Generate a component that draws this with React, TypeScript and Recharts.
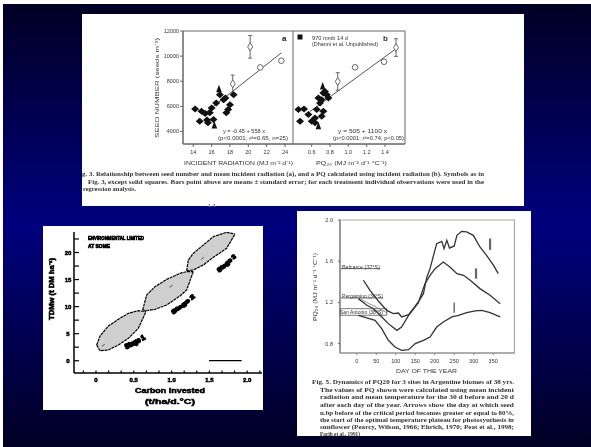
import React from "react";
import {
  ScatterChart, Scatter, XAxis, YAxis, ErrorBar, ReferenceArea, ReferenceLine,
  ComposedChart, Area, LineChart, Line,
} from "recharts";

// Panel A/B: seed number
const seedTicks = [4000, 6000, 8000, 10000, 12000];
const radTicks = [14, 16, 18, 20, 22, 24];
const pqTicks = [0.6, 0.8, 1.0, 1.2, 1.4];
const radX = [14.2, 14.7, 15.3, 15.6, 16.2, 16, 16.5, 16.9, 17.5, 17.8, 17.6, 18.4, 14.9, 15.5, 15.8, 17.3, 18];
const radY = [5790, 4820, 5420, 4690, 4950, 5870, 6270, 6920, 6660, 5740, 5480, 6920, 5610, 4920, 5480, 6530, 6130];
const radTriX = [16.8, 16.3];
const radTriY = [7320, 4430];
const radBarX = [18.3, 20.2];
const radBarY = [7790, 10740];
const radBarErr = [700, 900];
const radOpenX = [21.3, 23.6];
const radOpenY = [9100, 9630];
const radFitX = [15, 23.6];
const radFitY = [5304, 10260];
const pqX = [0.455, 0.516, 0.564, 0.473, 0.6, 0.636, 0.655, 0.691, 0.673, 0.727, 0.764, 0.782, 0.727, 0.709, 0.636, 0.709, 0.745];
const pqY = [5740, 5790, 5350, 4820, 4820, 4690, 5740, 6270, 6660, 7060, 6920, 6660, 5610, 5210, 5080, 6530, 7190];
const pqTriX = [0.673, 0.72];
const pqTriY = [4370, 7530];
const pqBarX = [0.884, 1.52];
const pqBarY = [7980, 10680];
const pqBarErr = [700, 700];
const pqOpenX = [1.073, 1.389];
const pqOpenY = [9110, 9550];
const pqFitX = [0.58, 1.509];
const pqFitY = [5580, 10530];

const xyRows = (xs: number[], ys: number[], errs?: number[]) =>
  xs.map((x, i) => ({ x, y: ys[i], err: errs ? errs[i] : 0 }));

// Panel C: carbon lens diagram
const carbonMajor = [0, 0.5, 1, 1.5, 2];
const carbonLabels = ["0", "0.5", "1.0", "1.5", "2.0"];
const carbonTicks = [-0.167, 0, 0.167, 0.333, 0.5, 0.667, 0.833, 1, 1.167, 1.333, 1.5, 1.667, 1.833, 2, 2.167];
const tdmMajor = [0, 5, 10, 15, 20];
const tdmTicks = [0, 2.5, 5, 7.5, 10, 12.5, 15, 17.5, 20, 22.5];
const lens1X = [0.009, 0.053, 0.163, 0.295, 0.428, 0.56, 0.661];
const lens1Hi = [2.9, 4.57, 6.41, 7.65, 8.76, 9.25, 9.06];
const lens1Lo = [2.9, 1.85, 1.98, 2.9, 4.13, 5.98, 9.06];
const lens2X = [0.617, 0.67, 0.78, 0.935, 1.111, 1.199, 1.287];
const lens2Hi = [9.37, 12.14, 13.68, 15.04, 16.15, 16.46, 16.46];
const lens2Lo = [9.37, 9.25, 9.49, 10.3, 11.96, 13.07, 16.46];
const lens3X = [1.199, 1.221, 1.287, 1.42, 1.552, 1.728, 1.839];
const lens3Hi = [16.64, 18.61, 19.85, 21.39, 22.93, 23.73, 23.42];
const lens3Lo = [16.64, 16.64, 16.77, 17.69, 19.11, 20.77, 23.42];
const lensCentreX = [0.097, 0.992, 1.406];
const lensCentreY = [2.9, 13.8, 18.9];

const lensRows = [
  ...lens1X.map((x, i) => ({ x, l1: [lens1Lo[i], lens1Hi[i]] })),
  ...lens2X.map((x, i) => ({ x, l2: [lens2Lo[i], lens2Hi[i]] })),
  ...lens3X.map((x, i) => ({ x, l3: [lens3Lo[i], lens3Hi[i]] })),
].sort((a, b) => a.x - b.x);

// Panel D: PQ dynamics
const dayTicks = [0, 50, 100, 150, 200, 250, 300, 350];
const pqDayTicks = [0.8, 1.2, 1.6, 2.0];
const balDay = [17, 34, 56, 77, 94, 107, 115, 133, 145, 158, 171, 180, 188, 197, 205, 218, 224, 231, 238, 250, 257, 269, 282, 299, 316, 333, 351, 363];
const balPq = [1.415, 1.317, 1.211, 1.123, 1.091, 1.097, 1.059, 1.081, 1.139, 1.204, 1.285, 1.447, 1.528, 1.657, 1.771, 1.793, 1.722, 1.803, 1.728, 1.748, 1.851, 1.89, 1.884, 1.851, 1.738, 1.657, 1.56, 1.479];
const perDay = [4, 26, 43, 60, 81, 103, 115, 133, 145, 158, 175, 188, 201, 222, 239, 257, 274, 291, 316, 342, 368];
const perPq = [1.236, 1.172, 1.139, 1.075, 0.994, 0.929, 0.961, 1.075, 1.133, 1.198, 1.382, 1.463, 1.528, 1.592, 1.544, 1.479, 1.463, 1.415, 1.334, 1.269, 1.188];
const sanDay = [4, 26, 47, 64, 81, 98, 115, 133, 150, 171, 188, 205, 222, 244, 261, 282, 304, 321, 342, 368];
const sanPq = [1.075, 1.049, 1.026, 0.945, 0.832, 0.767, 0.735, 0.741, 0.8, 0.832, 0.864, 0.961, 1.01, 1.059, 1.075, 1.101, 1.117, 1.123, 1.101, 1.059];
const dayRows = (xs: number[], ys: number[]) => xs.map((x, i) => ({ x, y: ys[i] }));

// Texts
const captionTop = [
  "g. 3. Relationship between seed number and mean incident radiation (a), and a PQ calculated using incident radiation (b). Symbols as in",
  "Fig. 3, except solid squares. Bars point above are means ± standard error; for each treatment individual observations were used in the",
  "regression analysis.",
];
const captionRight = [
  "Fig. 5. Dynamics of PQ20 for 3 sites in Argentine biomes of 38 yrs.",
  "The values of PQ shown were calculated using mean incident",
  "radiation and mean temperature for the 30 d before and 20 d",
  "after each day of the year. Arrows show the day at which seed",
  "n.bp before of the critical period becomes greater or equal to 80%,",
  "the start of the optimal temperature plateau for photosynthesis in",
  "sunflower (Pearcy, Wilson, 1966; Ehrich, 1970; Peat et al., 1998;",
  "Farih et al., 1991)",
];

const SANS = "'Liberation Sans', sans-serif";
const SERIF = "'Liberation Serif', serif";

function T({ x, y, w, s = 5.5, b = false, c = "#333", rot, f = SANS, sw = 0, children }: any) {
  return (
    <text
      x={x} y={y} fontSize={s} fontFamily={f} fontWeight={b ? 700 : 400} fill={c}
      dominantBaseline="central" textLength={w} lengthAdjust="spacingAndGlyphs"
      stroke={sw ? c : undefined} strokeWidth={sw || undefined}
      transform={rot ? `rotate(${rot} ${x} ${y})` : undefined}
    >
      {children}
    </text>
  );
}

const Layer = ({ blur, children }: any) => (
  <div style={{ position: "absolute", left: 0, top: 0, width: 591, height: 447, filter: `blur(${blur}px)` }}>{children}</div>
);
const Place = ({ l, t, children }: any) => (
  <div style={{ position: "absolute", left: l, top: t }}>{children}</div>
);
const Overlay = ({ children }: any) => (
  <svg width={591} height={447} style={{ position: "absolute", left: 0, top: 0 }}>{children}</svg>
);
const Panel = ({ l, t, w, h }: any) => (
  <div style={{ position: "absolute", left: l, top: t, width: w, height: h, background: "#fff" }} />
);

const sTick = { fontSize: 5.5, fontFamily: SANS, fill: "#333" };
const noShape = () => <g />;
const poly = (cx: number, cy: number, pts: number[][], fill: string, stroke?: string) => (
  <polygon points={pts.map(([a, b]) => `${cx + a},${cy + b}`).join(" ")} fill={fill} stroke={stroke} strokeWidth={stroke ? 1 : 0} />
);
const solidDiamond = ({ cx, cy }: any) => poly(cx, cy, [[-4, 0], [0, -3.5], [4, 0], [0, 3.5]], "#111");
const solidTriangle = ({ cx, cy }: any) => poly(cx, cy, [[0, -5], [2.8, 2.4], [-2.8, 2.4]], "#111");
const openDiamond = ({ cx, cy }: any) => poly(cx, cy, [[-2.5, 0], [0, -4], [2.5, 0], [0, 4]], "#fff", "#666");
const openCircle = ({ cx, cy }: any) => <circle cx={cx} cy={cy} r={2.8} fill="#fff" stroke="#666" strokeWidth={1} />;
const centreMark = ({ cx, cy }: any) => poly(cx, cy, [[-1.5, 1], [1.5, -1.4], [1.5, -0.6], [-1.5, 1.6]], "#222");

function SeedChart({ xDom, xTicks, pts, tri, bar, open, fit, yAxis, width, right, fmt }: any) {
  return (
    <ScatterChart width={width} height={140} margin={{ top: 11, right, bottom: 0, left: 0 }}>
      <XAxis type="number" dataKey="x" domain={xDom} ticks={xTicks} allowDataOverflow interval={0}
        height={16} tick={sTick} tickSize={3} tickMargin={3} stroke="#666" tickFormatter={fmt} />
      <YAxis type="number" dataKey="y" domain={[3000, 12000]} ticks={seedTicks} allowDataOverflow interval={0}
        width={yAxis ? 33 : 0} hide={!yAxis} tick={sTick} tickSize={3} tickMargin={1} stroke="#666" />
      <ReferenceArea x1={xDom[0]} x2={xDom[1]} y1={3000} y2={12000} fill="none" stroke="#666" strokeWidth={1} />
      <Scatter data={fit} line={{ stroke: "#555", strokeWidth: 1 }} shape={noShape} isAnimationActive={false} />
      <Scatter data={pts} shape={solidDiamond} isAnimationActive={false} />
      <Scatter data={tri} shape={solidTriangle} isAnimationActive={false} />
      <Scatter data={bar} shape={openDiamond} isAnimationActive={false}>
        <ErrorBar dataKey="err" direction="y" width={2} stroke="#666" strokeWidth={1} />
      </Scatter>
      <Scatter data={open} shape={openCircle} isAnimationActive={false} />
    </ScatterChart>
  );
}

const carbonTick = ({ x, y, payload }: any) => {
  const i = carbonMajor.indexOf(payload.value);
  return (
    <g>
      <line x1={x} x2={x} y1={y - 2.5} y2={y} stroke="#000" strokeWidth={1.2} />
      {i >= 0 && (
        <text x={x} y={y + 7} textAnchor="middle" dominantBaseline="central" fontSize={6} fontWeight={700}
          fontFamily={SANS} fill="#000" stroke="#000" strokeWidth={0.5}>{carbonLabels[i]}</text>
      )}
    </g>
  );
};
const tdmTick = ({ x, y, payload }: any) => {
  const major = tdmMajor.includes(payload.value);
  return (
    <g>
      <line x1={x} x2={x + 5} y1={y} y2={y} stroke="#000" strokeWidth={1.2} />
      {major && (
        <text x={x - 6} y={y} textAnchor="middle" dominantBaseline="central" fontSize={6} fontWeight={700}
          fontFamily={SANS} fill="#000" stroke="#000" strokeWidth={0.5}>{payload.value}</text>
      )}
    </g>
  );
};

const lensStyle = { stroke: "#000", strokeWidth: 1.2, strokeDasharray: "3 0.7", fill: "#cfcfcf", fillOpacity: 1 };

export default function App() {
  return (
    <div style={{ position: "fixed", left: 0, top: 0, width: 591, height: 447, background: "#fff", overflow: "hidden" }}>
      <div style={{ position: "absolute", left: 3, top: 4, width: 588, height: 443,
        background: "linear-gradient(180deg,#000024 0%,#00007e 50%,#000024 100%)" }} />
      <Panel l={82} t={14} w={442} h={192} />
      <Panel l={43} t={226} w={220} h={184} />
      <Panel l={297} t={211} w={234} h={225} />

      <Layer blur={0.6}>
        <Place l={150} t={20}>
          <SeedChart xDom={[12.88, 24.87]} xTicks={radTicks} yAxis width={143} right={0}
            pts={xyRows(radX, radY)} tri={xyRows(radTriX, radTriY)}
            bar={xyRows(radBarX, radBarY, radBarErr)} open={xyRows(radOpenX, radOpenY)}
            fit={xyRows(radFitX, radFitY)} />
        </Place>
        <Place l={293} t={20}>
          <SeedChart xDom={[0.396, 1.618]} xTicks={pqTicks} yAxis={false} width={122} right={10}
            fmt={(v: number) => v.toFixed(1)}
            pts={xyRows(pqX, pqY)} tri={xyRows(pqTriX, pqTriY)}
            bar={xyRows(pqBarX, pqBarY, pqBarErr)} open={xyRows(pqOpenX, pqOpenY)}
            fit={xyRows(pqFitX, pqFitY)} />
        </Place>
        <Overlay>
          <T x={157} y={138} w={100} s={6} rot={-90}>SEED NUMBER (seeds m⁻²)</T>
          <T x={184} y={162.5} w={109} s={6}>INCIDENT RADIATION (MJ m⁻² d⁻¹)</T>
          <T x={316} y={163} w={71} s={6}>PQ₂₀ (MJ m⁻² d⁻¹ °C⁻¹)</T>
          <T x={223} y={131} w={42} s={5}>y = -0.45 + 558 x</T>
          <T x={218} y={138} w={70} s={5}>(p&lt;0.0001; r²=0.65, n=25)</T>
          <T x={338} y={131} w={49} s={5}>y = 505 + 1100 x</T>
          <T x={333} y={138} w={71} s={5}>(p&lt;0.0001; r²=0.74, p&lt;0.05)</T>
          <T x={312} y={37.5} w={36} s={5}>970 mmb 14 d</T>
          <T x={312} y={44} w={66} s={5}>(Dhanni et al. Unpublished)</T>
          <rect x={297.5} y={34.5} width={5} height={5} fill="#111" />
          <T x={383} y={38} s={8} b>b</T>
          <T x={282} y={38} s={8} b c="#111">a</T>
          <T x={82} y={174} w={402} s={5.6} f={SERIF} b>{captionTop[0]}</T>
          <T x={88} y={181.5} w={396} s={5.6} f={SERIF} b>{captionTop[1]}</T>
          <T x={83} y={189} w={53} s={5.6} f={SERIF} b>{captionTop[2]}</T>
          <T x={207} y={205} w={9} s={4} c="#777">14</T>
        </Overlay>
      </Layer>

      <Layer blur={0.4}>
        <Place l={44} t={226}>
          <ComposedChart width={219} height={184} data={lensRows} margin={{ top: 6, right: 1, bottom: 0, left: 0 }}>
            <XAxis type="number" dataKey="x" domain={[-0.291, 2.196]} ticks={carbonTicks} allowDataOverflow interval={0}
              height={37} tick={carbonTick} tickLine={false} tickSize={0} tickMargin={0}
              axisLine={{ stroke: "#000", strokeWidth: 1.5 }} />
            <YAxis type="number" domain={[-2.27, 23.79]} ticks={tdmTicks} allowDataOverflow interval={0}
              width={30} tick={tdmTick} tickLine={false} tickSize={0} tickMargin={0}
              axisLine={{ stroke: "#000", strokeWidth: 1.5 }} />
            <Area dataKey="l1" type="linear" connectNulls {...lensStyle} isAnimationActive={false} dot={false} activeDot={false} />
            <Area dataKey="l2" type="linear" connectNulls {...lensStyle} isAnimationActive={false} dot={false} activeDot={false} />
            <Area dataKey="l3" type="linear" connectNulls {...lensStyle} isAnimationActive={false} dot={false} activeDot={false} />
            <Scatter data={xyRows(lensCentreX, lensCentreY)} dataKey="y" shape={centreMark} legendType="none" isAnimationActive={false} />
            <ReferenceLine segment={[{ x: 1.495, y: 0 }, { x: 1.927, y: 0 }]} stroke="#000" strokeWidth={1.2} />
          </ComposedChart>
        </Place>
        <Overlay>
          <T x={88} y={237.7} w={56} s={5.5} b sw={0.7} c="#000">ENVIRONMENTAL LIMITED</T>
          <T x={88} y={245.7} w={22} s={5.5} b sw={0.7} c="#000">AT SOME</T>
          <T x={51} y={320} w={62} s={7} b sw={0.6} c="#000" rot={-90}>TDMw (t DM ha⁻¹)</T>
          <T x={135} y={390.7} w={70} s={7} b sw={0.5} c="#000">Carbon Invested</T>
          <T x={145} y={401.7} w={50} s={7} b sw={0.5} c="#000">(t/ha/d.°C)</T>
          <T x={125} y={347} w={22} s={7} b sw={1.6} c="#000" rot={-28}>Stage 1</T>
          <T x={172} y={313} w={28} s={6} b sw={1.2} c="#000" rot={-38}>Stage 2</T>
          <T x={218} y={271} w={23} s={6} b sw={1.4} c="#000" rot={-42}>Stage 3</T>
        </Overlay>
      </Layer>

      <Layer blur={0.6}>
        <Place l={300} t={212}>
          <LineChart width={216} height={155} margin={{ top: 8, right: 1.5, bottom: 0, left: 0 }}>
            <XAxis type="number" dataKey="x" domain={[-43, 404.7]} ticks={dayTicks} allowDataOverflow interval={0}
              height={14} tick={sTick} tickSize={2} tickMargin={4} stroke="#888" />
            <YAxis type="number" dataKey="y" domain={[0.709, 2]} ticks={pqDayTicks} allowDataOverflow interval={0}
              width={40} tick={sTick} tickSize={2} tickMargin={5} stroke="#666"
              tickFormatter={(v: number) => v.toFixed(1)} />
            <ReferenceArea x1={-43} x2={404.7} y1={0.709} y2={2} fill="none" stroke="#aaa" strokeWidth={1.2} />
            <ReferenceLine segment={[{ x: -41, y: 1.528 }, { x: 60, y: 1.528 }]} stroke="#444" strokeWidth={0.8} />
            <ReferenceLine segment={[{ x: -41, y: 1.243 }, { x: 68, y: 1.243 }]} stroke="#444" strokeWidth={0.8} />
            <ReferenceLine segment={[{ x: 4, y: 1.243 }, { x: 77, y: 1.1 }]} stroke="#666" strokeWidth={0.7} />
            <ReferenceArea x1={-43} x2={77} y1={1.075} y2={1.139} fill="none" stroke="#555" strokeWidth={0.8} />
            <ReferenceLine segment={[{ x: 342, y: 1.82 }, { x: 342, y: 1.71 }]} stroke="#666" strokeWidth={2.2} />
            <ReferenceLine segment={[{ x: 306, y: 1.53 }, { x: 306, y: 1.43 }]} stroke="#666" strokeWidth={2.2} />
            <ReferenceLine segment={[{ x: 250, y: 1.2 }, { x: 250, y: 1.1 }]} stroke="#666" strokeWidth={1.4} />
            <Line data={dayRows(balDay, balPq)} dataKey="y" type="linear" stroke="#333" strokeWidth={1.3} dot={false} isAnimationActive={false} />
            <Line data={dayRows(perDay, perPq)} dataKey="y" type="linear" stroke="#333" strokeWidth={1.3} dot={false} isAnimationActive={false} />
            <Line data={dayRows(sanDay, sanPq)} dataKey="y" type="linear" stroke="#333" strokeWidth={1.3} dot={false} isAnimationActive={false} />
          </LineChart>
        </Place>
        <Overlay>
          <T x={315} y={321} w={68} s={5.5} rot={-90}>PQ₂₀ (MJ m⁻² d⁻¹ °C⁻¹)</T>
          <T x={342} y={266.5} w={38} s={5}>Balcarce (37°S)</T>
          <T x={342} y={296} w={41} s={5}>Pergamino (34°S)</T>
          <T x={340} y={312} w={43} s={5}>San Antonio (38°S)</T>
          <T x={396} y={371} w={61} s={5.5}>DAY OF THE YEAR</T>
          <T x={312} y={382.3} w={202} s={5.8} f={SERIF} b>{captionRight[0]}</T>
          <T x={320} y={389.7} w={194} s={5.8} f={SERIF} b>{captionRight[1]}</T>
          <T x={320} y={397.3} w={194} s={5.8} f={SERIF} b>{captionRight[2]}</T>
          <T x={320} y={405} w={194} s={5.8} f={SERIF} b>{captionRight[3]}</T>
          <T x={320} y={412.7} w={194} s={5.8} f={SERIF} b>{captionRight[4]}</T>
          <T x={320} y={419.5} w={194} s={5.8} f={SERIF} b>{captionRight[5]}</T>
          <T x={320} y={427} w={194} s={5.8} f={SERIF} b>{captionRight[6]}</T>
          <T x={320} y={433.5} w={40} s={5.8} f={SERIF} b>{captionRight[7]}</T>
        </Overlay>
      </Layer>
    </div>
  );
}
